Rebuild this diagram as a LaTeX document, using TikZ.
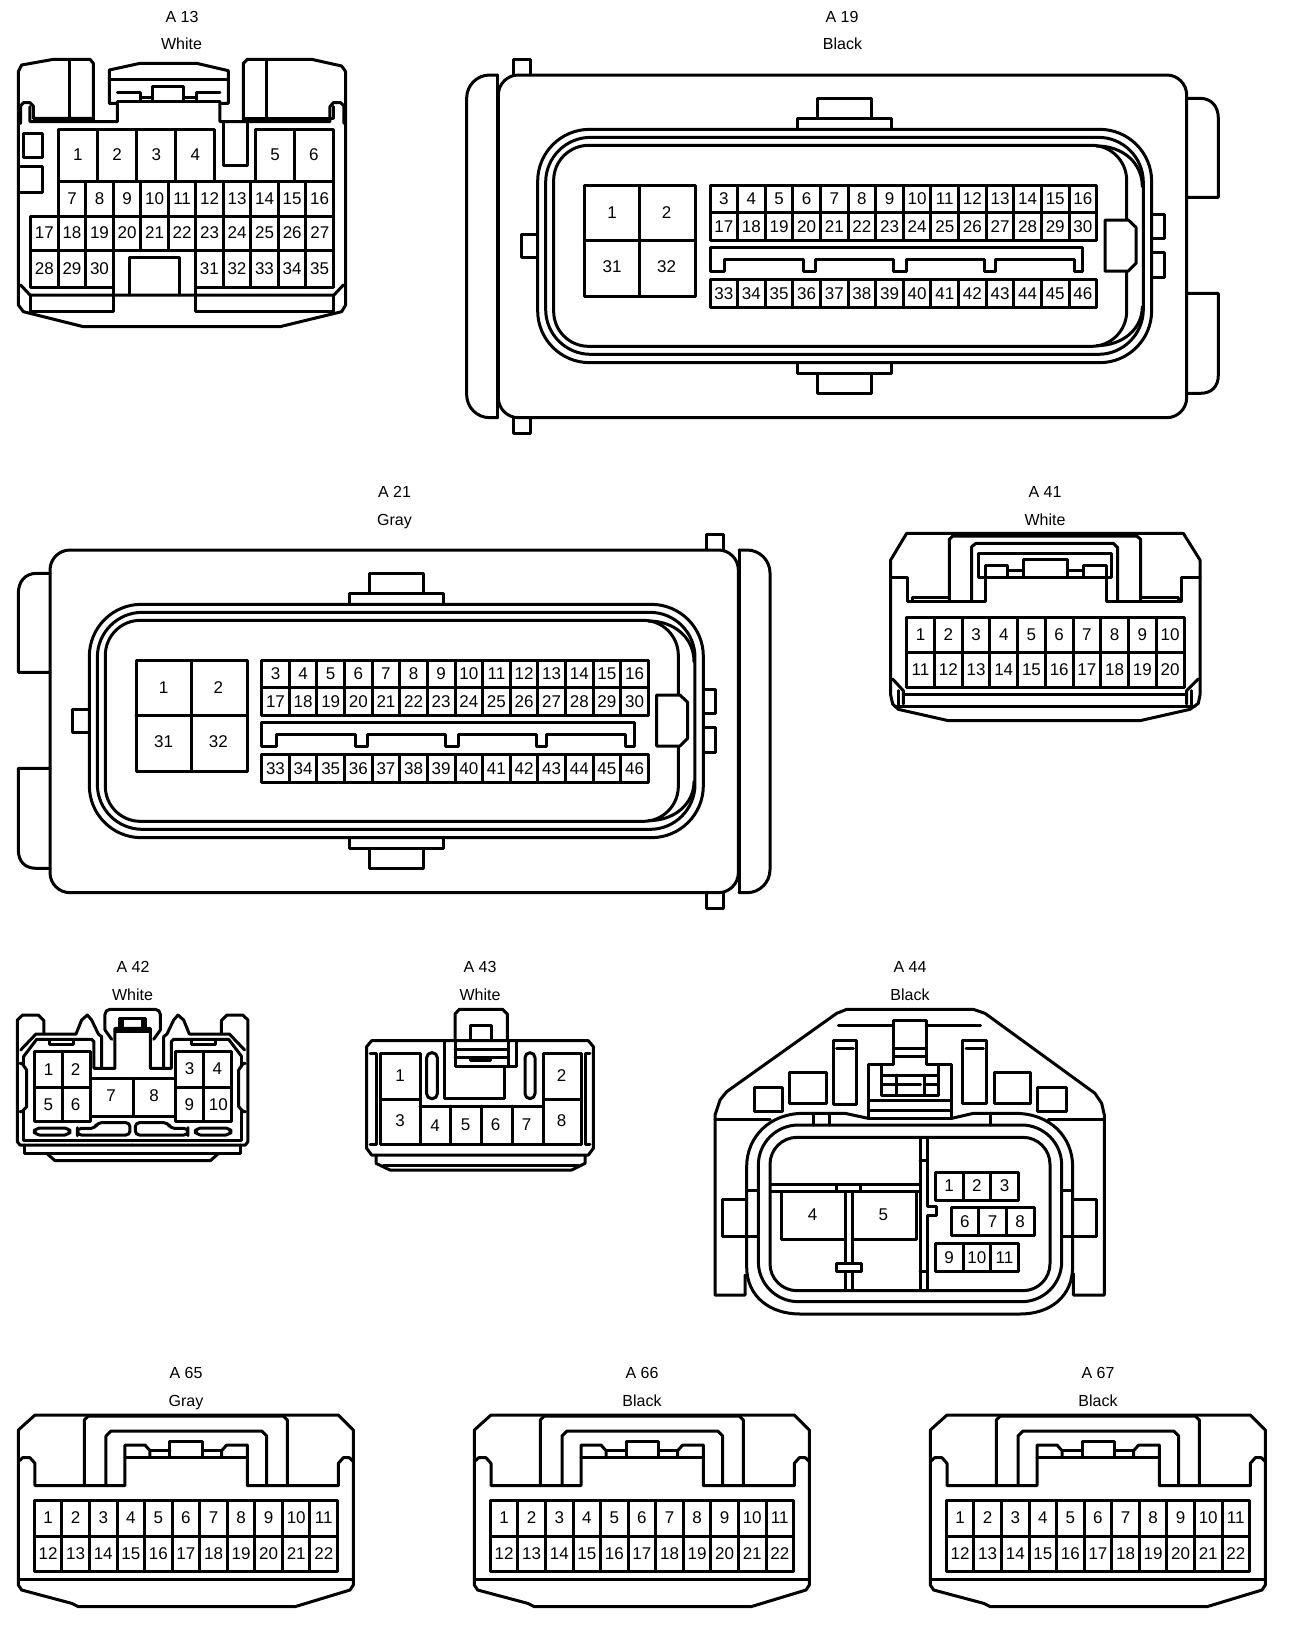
\documentclass[tikz,border=0pt]{standalone}
\usepackage{fontspec}
\setmainfont{Liberation Sans}
\tikzset{
  conn/.style={draw=black,line width=3pt,line join=round,line cap=round},
  pinlab/.style={anchor=base,inner sep=0pt,font=\fontsize{17}{17}\selectfont,text=black},
  titlelab/.style={anchor=base,inner sep=0pt,font=\fontsize{16}{16}\selectfont,text=black},
  zoomframe/.style={x=0.33333pt,y=-0.33333pt}
}
\newcommand{\cellgrid}[7]{%
  \foreach \ci in {1,...,#7}{%
    \pgfmathsetmacro\pA{#2+(\ci-1)*#3}%
    \pgfmathsetmacro\pB{\pA+#3}%
    \pgfmathsetmacro\pC{\pA+#3/2}%
    \pgfmathsetmacro\pM{(#4+#5)/2+16.5}%
    \pgfmathtruncatemacro\pN{#6+\ci-1}%
    \draw[conn] (\pA,#4) rectangle (\pB,#5);
    \node[pinlab] (#1\pN) at (\pC,\pM) {\pN};
  }%
}
\newcommand{\pinat}[4]{\node[pinlab] (#1) at ({#2},{#3+17}) {#4};}
\newcommand{\lab}[4]{\node[titlelab] (#1) at ({#2},{#3+5.8}) {#4};}
% ECU body, in the frame of A19
\newcommand{\ecuouter}{%
  \draw[conn,rounded corners=20pt] (800,105)--(2195,105)--(2195,1133)--(130,1133)--(130,105)--cycle;
  \draw[conn,rounded corners=23pt] (128,105)--(35,105)--(35,1133)--(128,1133);
  \draw[conn] (128,105)--(128,1133);
  \draw[conn] (175,103)--(175,58)--(225,58)--(225,103);
  \draw[conn] (175,1135)--(175,1180)--(225,1180)--(225,1135);
  \draw[conn] (2195,175)--(2235,175) .. controls (2270,175) and (2290,200) .. (2290,235)--(2290,472)--(2195,472);
  \draw[conn] (2195,760)--(2290,760)--(2290,1005) .. controls (2290,1040) and (2270,1060) .. (2235,1060)--(2195,1060);
}
\newcommand{\ecuinner}[1]{%
  \draw[conn] (1088,232)--(1088,175)--(1250,175)--(1250,232);
  \draw[conn] (1027,265)--(1027,235)--(1310,235)--(1310,265);
  \draw[conn] (1027,970)--(1027,1000)--(1310,1000)--(1310,970);
  \draw[conn] (1088,1000)--(1088,1060)--(1250,1060)--(1250,1000);
  \draw[conn,rounded corners=52pt] (800,268)--(2090,268)--(2090,968)--(248,968)--(248,268)--cycle;
  \draw[conn,rounded corners=45pt] (800,292)--(2065,292)--(2065,943)--(272,943)--(272,292)--cycle;
  \draw[conn,rounded corners=35pt] (800,316)--(2015,316)--(2015,919)--(296,919)--(296,316)--cycle;
  \draw[conn] (1925,318) .. controls (2005,318) and (2062,370) .. (2062,440);
  \draw[conn] (1925,917) .. controls (2005,917) and (2062,865) .. (2062,800);
  \draw[conn,fill=white] (1950,540)--(2020,540)--(2043,562)--(2043,670)--(2020,693)--(1950,693)--cycle;
  \draw[conn] (246,582)--(198,582)--(198,653)--(246,653);
  \draw[conn] (2092,522)--(2127,522)--(2127,596)--(2092,596);
  \draw[conn] (2092,638)--(2127,638)--(2127,712)--(2092,712);
  \draw[conn] (388,437) rectangle (722,768);
  \draw[conn] (553,437)--(553,768) (388,602)--(722,602);
  \pinat{#1big1}{471}{518}{1}
  \pinat{#1big2}{635}{518}{2}
  \pinat{#1big31}{471}{680}{31}
  \pinat{#1big32}{635}{680}{32}
  \cellgrid{#1p}{765}{82.86}{437}{517}{3}{14}
  \cellgrid{#1p}{765}{82.86}{517}{602}{17}{14}
  \cellgrid{#1p}{765}{82.86}{718}{803}{33}{14}
  \draw[conn] (765,695)--(765,622)--(1882,622)--(1882,695)--(1857,695)--(1857,658)--(1620,658)--(1620,695)--(1588,695)--(1588,658)--(1355,658)--(1355,695)--(1315,695)--(1315,658)--(1082,658)--(1082,695)--(1045,695)--(1045,658)--(808,658)--(808,695)--cycle;
}
\newcommand{\halfAfortytwo}{%
  \draw[conn] (398,435)--(60,435)--(52,425)--(52,60)--(68,45)--(115,45)--(132,62)--(132,100);
  \draw[conn] (62,150)--(108,102)--(228,102)--(245,60)--(262,45)--(275,60)--(295,102)--(305,110)--(305,205);
  \draw[conn] (72,168)--(110,118)--(275,118)--(282,125)--(282,205)--(345,205)--(345,85)--(398,85);
  \draw[conn] (72,168)--(72,195) (72,330)--(72,420)--(398,420);
  \draw[conn] (60,190)--(66,190)--(80,210)--(80,320)--(66,335)--(60,335);
  \draw[conn] (150,118)--(150,132)--(222,132)--(222,118);
  \draw[conn] (75,435)--(75,460)--(398,460);
  \draw[conn] (140,460)--(165,482)--(398,482);
  \draw[conn,rounded corners=5pt] (103,384) rectangle (210,405);
  \draw[conn,rounded corners=4pt] (232,395)--(232,385)--(285,385)--(292,368)--(390,368)--(390,405)--(232,405)--cycle;
  \draw[conn] (345,95)--(398,95);
  \draw[conn] (315,90)--(335,118);
  \draw[conn,rounded corners=5pt] (315,90)--(315,28)--(398,28);
  \draw[conn] (358,85)--(358,55)--(398,55);
  \draw[conn] (368,55)--(368,80);
}
\newcommand{\connAsixtyfive}[1]{%
  \draw[conn] (55,670)--(55,210)--(105,165)--(1015,165)--(1060,210)--(1060,675)--(1050,690)--(885,740)--(235,740)--(215,730)--(65,690)--(55,675)--cycle;
  \draw[conn] (55,305)--(68,293)--(90,293)--(105,310)--(105,377)--(375,377)--(375,255)--(435,255)--(450,272)--(450,292);
  \draw[conn] (375,292)--(742,292);
  \draw[conn] (450,272)--(510,272) (607,272)--(665,272);
  \draw[conn] (510,292)--(510,243)--(607,243)--(607,292);
  \draw[conn] (665,292)--(665,272)--(680,255)--(742,255)--(742,377)--(1015,377)--(1015,310)--(1030,293)--(1048,293)--(1060,305);
  \draw[conn] (253,377)--(253,180)--(265,168)--(850,168)--(862,180)--(862,377);
  \draw[conn] (318,377)--(318,228)--(333,213)--(785,213)--(800,228)--(800,377);
  \cellgrid{#1p}{103}{82.7}{422}{528}{1}{11}
  \cellgrid{#1p}{103}{82.7}{528}{634}{12}{11}
  \draw[conn] (55,658)--(1060,658);
}
\begin{document}
\begin{tikzpicture}[x=1pt,y=-1pt]
\useasboundingbox (0,0) rectangle (1312,1626);
\fill[white] (0,0) rectangle (1312,1626);
% titles
\lab{tA}{182}{16.5}{A 13}\lab{cA}{181.5}{44}{White}
\lab{tB}{842}{16.5}{A 19}\lab{cB}{842.5}{44}{Black}
\lab{tC}{394.5}{492}{A 21}\lab{cC}{394.5}{519.5}{Gray}
\lab{tD}{1045}{492}{A 41}\lab{cD}{1045}{519.5}{White}
\lab{tE}{133}{967}{A 42}\lab{cE}{132.5}{994.5}{White}
\lab{tF}{480}{967}{A 43}\lab{cF}{480}{994.5}{White}
\lab{tG}{910}{967}{A 44}\lab{cG}{910}{994.5}{Black}
\lab{tH}{186}{1373}{A 65}\lab{cH}{186}{1400.5}{Gray}
\lab{tI}{642}{1373}{A 66}\lab{cI}{642}{1400.5}{Black}
\lab{tJ}{1098}{1373}{A 67}\lab{cJ}{1098}{1400.5}{Black}
% A13
\begin{scope}[shift={(0,0)},zoomframe]
  \draw[conn] (280,360)--(280,190)--(270,178)--(160,178)--(65,195)--(55,215)--(55,915)--(70,935)--(250,980)--(840,980)--(1025,935)--(1037,915)--(1037,215)--(1025,198)--(935,178)--(742,178)--(730,190)--(730,360);
  \draw[conn] (208,178)--(208,355) (800,178)--(800,355);
  \draw[conn] (62,370)--(62,318)--(70,308)--(90,308)--(100,318)--(100,355)--(280,355);
  \draw[conn] (90,320)--(90,365)--(352,365)--(352,310)--(328,310)--(328,210)--(420,190)--(590,190)--(685,212)--(685,310)--(660,310)--(660,365)--(990,365)--(990,320)--(1000,308)--(1022,308)--(1032,318)--(1032,370);
  \draw[conn] (735,355)--(1000,355)--(1000,320);
  \draw[conn] (328,238)--(685,238);
  \draw[conn] (352,305)--(660,305);
  \draw[conn] (352,278)--(422,278)--(422,305) (422,292)--(458,292);
  \draw[conn] (458,305)--(458,260)--(552,260)--(552,305) (552,292)--(590,292);
  \draw[conn] (590,305)--(590,278)--(660,278);
  \draw[conn] (670,365)--(670,495)--(742,495)--(742,365);
  \draw[conn] (72,400) rectangle (128,472);
  \draw[conn] (62,498)--(128,498)--(128,578)--(62,578);
  \cellgrid{ap}{175}{117.5}{388}{543}{1}{4}
  \cellgrid{ap}{767}{116.5}{388}{543}{5}{2}
  \cellgrid{ap}{175}{82.5}{545}{648}{7}{10}
  \cellgrid{ap}{92}{82.6}{648}{752}{17}{11}
  \cellgrid{ap}{92}{82.6}{752}{862}{28}{3}
  \cellgrid{ap}{587}{82.6}{752}{862}{31}{5}
  \draw[conn] (388,885)--(388,772)--(540,772)--(540,885);
  \draw[conn] (62,855)--(90,885)--(1002,885)--(1030,855);
  \draw[conn] (92,885)--(92,935)--(342,935)--(342,862);
  \draw[conn] (587,862)--(587,935)--(1000,935)--(1000,885);
\end{scope}
% A19
\begin{scope}[shift={(455,40)},zoomframe]
  \ecuouter
  \ecuinner{b}
\end{scope}
% A21
\begin{scope}[shift={(781.67,515)},x=-0.33333pt,y=-0.33333pt]
  \ecuouter
\end{scope}
\begin{scope}[shift={(6.67,515)},zoomframe]
  \ecuinner{c}
\end{scope}
% A41
\begin{scope}[shift={(870,480)},zoomframe]
  \draw[conn] (62,645)--(62,240)--(110,160)--(940,160)--(990,240)--(990,645)--(985,670)--(960,688)--(810,722)--(235,722)--(85,688)--(68,672)--cycle;
  \draw[conn] (62,292)--(112,292)--(112,363)--(345,363)--(345,255)--(412,255)--(412,290);
  \draw[conn] (325,292)--(325,220)--(725,220)--(725,292)--cycle;
  \draw[conn] (412,272)--(460,272) (593,272)--(640,272);
  \draw[conn] (460,290)--(460,238)--(593,238)--(593,290);
  \draw[conn] (640,290)--(640,255)--(710,255)--(710,363)--(935,363)--(935,292)--(990,292);
  \draw[conn] (238,363)--(238,178)--(248,168)--(800,168)--(812,178)--(812,363);
  \draw[conn] (305,363)--(305,200)--(318,190)--(730,190)--(743,203)--(743,363);
  \draw[conn] (128,363)--(128,352)--(235,352) (815,352)--(925,352)--(925,363);
  \cellgrid{dp}{110}{83.2}{412}{518}{1}{10}
  \cellgrid{dp}{110}{83.2}{518}{622}{11}{10}
  \draw[conn] (68,597)--(100,632)--(100,672) (985,597)--(950,632)--(950,672);
  \draw[conn] (85,632)--(85,680) (965,632)--(965,680);
  \draw[conn] (100,642)--(950,642);
  \draw[conn] (75,678)--(975,678);
\end{scope}
% A42
\begin{scope}[shift={(0,1000)},zoomframe]
  \halfAfortytwo
\end{scope}
\begin{scope}[shift={(265.33,1000)},x=-0.33333pt,y=-0.33333pt]
  \halfAfortytwo
\end{scope}
\begin{scope}[shift={(0,1000)},zoomframe]
  \draw[conn] (105,155) rectangle (272,365);
  \draw[conn] (188,155)--(188,365) (105,262)--(272,262);
  \draw[conn] (527,155) rectangle (695,365);
  \draw[conn] (612,155)--(612,365) (527,262)--(695,262);
  \draw[conn] (272,235) rectangle (527,350);
  \draw[conn] (400,235)--(400,350);
  \pinat{e1}{146}{208}{1}\pinat{e2}{227}{208}{2}
  \pinat{e5}{145}{313}{5}\pinat{e6}{227}{313}{6}
  \pinat{e3}{569}{206}{3}\pinat{e4}{652}{206}{4}
  \pinat{e9}{568}{313}{9}\pinat{e10}{655}{313}{10}
  \pinat{e7}{333}{288}{7}\pinat{e8}{462}{288}{8}
\end{scope}
% A43
\begin{scope}[shift={(350,1000)},zoomframe]
  \draw[conn] (50,445)--(50,140)--(65,122)--(715,122)--(730,140)--(730,445)--(715,465)--(65,465)--cycle;
  \draw[conn] (78,465)--(78,490)--(120,510)--(665,510)--(705,490)--(705,465);
  \draw[conn] (100,497)--(685,497);
  \draw[conn] (60,160)--(78,160)--(78,432)--(60,432);
  \draw[conn] (720,160)--(705,160)--(705,432)--(720,432);
  \draw[conn] (90,160) rectangle (210,298);
  \draw[conn] (90,298) rectangle (210,432);
  \draw[conn] (580,160) rectangle (695,298);
  \draw[conn] (580,298) rectangle (695,432);
  \draw[conn] (210,318)--(580,318) (210,432)--(580,432);
  \draw[conn] (300,318)--(300,432) (395,318)--(395,432) (487,318)--(487,432);
  \pinat{f1}{150}{226}{1}\pinat{f3}{150}{362}{3}
  \pinat{f2}{635}{226}{2}\pinat{f8}{635}{362}{8}
  \pinat{f4}{255}{376}{4}\pinat{f5}{347}{373}{5}
  \pinat{f6}{437}{373}{6}\pinat{f7}{530}{373}{7}
  \draw[conn,rounded corners=5pt] (230,158) rectangle (262,296);
  \draw[conn,rounded corners=5pt] (525,158) rectangle (555,296);
  \draw[conn] (315,122)--(315,42)--(328,28)--(458,28)--(472,42)--(472,122);
  \draw[conn] (360,122)--(360,75)--(425,75)--(425,122);
  \draw[conn] (315,122)--(315,200)--(500,200)--(500,125);
  \draw[conn] (315,148)--(475,148) (315,172)--(475,172);
  \draw[conn] (475,122)--(475,200);
  \draw[conn] (362,172)--(362,182)--(422,182)--(422,172);
  \draw[conn] (282,125)--(282,295)--(462,295)--(462,200);
\end{scope}
% A44
\begin{scope}[shift={(690,950)},zoomframe]
  \draw[conn] (165,975)--(165,1035)--(75,1035)--(75,495)--(90,450)--(110,425)--(440,190)--(470,178)--(850,178)--(885,190)--(1215,430)--(1235,460)--(1243,495)--(1243,1035)--(1150,1035)--(1150,970);
  \draw[conn] (75,508)--(240,508) (1075,508)--(1243,508);
  \draw[conn] (445,226)--(610,226) (708,226)--(872,226);
  \draw[conn] (610,212)--(708,212)--(708,342)--(785,342)--(785,505)--(535,505)--(535,342)--(610,342)--cycle;
  \draw[conn] (612,295)--(708,295) (612,320)--(708,320);
  \draw[conn] (575,345)--(575,435)--(745,435)--(745,345);
  \draw[conn] (575,375)--(745,375);
  \draw[conn] (575,403)--(615,403) (705,403)--(745,403) (625,403)--(692,403);
  \draw[conn] (618,375)--(618,435) (703,375)--(703,435);
  \draw[conn] (538,452)--(783,452) (538,482)--(783,482);
  \draw[conn] (430,270) rectangle (500,462);
  \draw[conn] (440,295)--(490,295);
  \draw[conn] (818,270) rectangle (890,460);
  \draw[conn] (828,295)--(880,295);
  \draw[conn] (298,367) rectangle (408,460);
  \draw[conn] (912,367) rectangle (1020,460);
  \draw[conn] (192,412) rectangle (276,485);
  \draw[conn] (1042,412) rectangle (1128,485);
  \draw[conn] (535,505)--(465,490)--(340,490) .. controls (240,490) and (170,560) .. (170,650)--(170,950) .. controls (170,1040) and (240,1092) .. (330,1092)--(990,1092) .. controls (1080,1092) and (1148,1040) .. (1148,950)--(1148,650) .. controls (1148,560) and (1080,490) .. (975,490)--(850,490)--(785,505);
  \draw[conn,rounded corners=40pt] (660,525)--(1115,525)--(1115,1055)--(205,1055)--(205,525)--cycle;
  \draw[conn,rounded corners=27pt] (660,562)--(1080,562)--(1080,1022)--(240,1022)--(240,562)--cycle;
  \draw[conn] (370,490)--(370,525) (418,490)--(418,525) (900,490)--(900,525);
  \draw[conn] (170,748)--(97,748)--(97,858)--(170,858);
  \draw[conn] (170,722)--(205,722) (170,858)--(205,858);
  \draw[conn] (1148,748)--(1220,748)--(1220,858)--(1148,858);
  \draw[conn] (1115,722)--(1148,722) (1115,858)--(1148,858);
  \draw[conn] (690,565)--(690,1020);
  \draw[conn] (712,565)--(712,770)--(738,770)--(738,795)--(712,795)--(712,1020);
  \draw[conn] (690,630)--(712,630) (690,965)--(712,965);
  \draw[conn] (243,703)--(690,703) (243,725)--(690,725);
  \draw[conn] (440,703)--(440,725) (510,703)--(510,725);
  \draw[conn] (275,728)--(275,868)--(465,868) (487,868)--(680,868)--(680,728);
  \draw[conn] (465,725)--(465,940) (487,725)--(487,940);
  \draw[conn] (440,940) rectangle (513,965);
  \draw[conn] (465,965)--(465,1020) (487,965)--(487,1020);
  \pinat{g4}{368}{795}{4}\pinat{g5}{580}{795}{5}
  \cellgrid{gp}{736}{83}{667}{750}{1}{3}
  \cellgrid{gp}{783}{83}{773}{857}{6}{3}
  \cellgrid{gp}{736}{83}{880}{965}{9}{3}
\end{scope}
% A65 A66 A67
\begin{scope}[shift={(0,1360)},zoomframe]
  \connAsixtyfive{h}
\end{scope}
\begin{scope}[shift={(456,1360)},zoomframe]
  \connAsixtyfive{i}
\end{scope}
\begin{scope}[shift={(912,1360)},zoomframe]
  \connAsixtyfive{j}
\end{scope}
\end{tikzpicture}
\end{document}
